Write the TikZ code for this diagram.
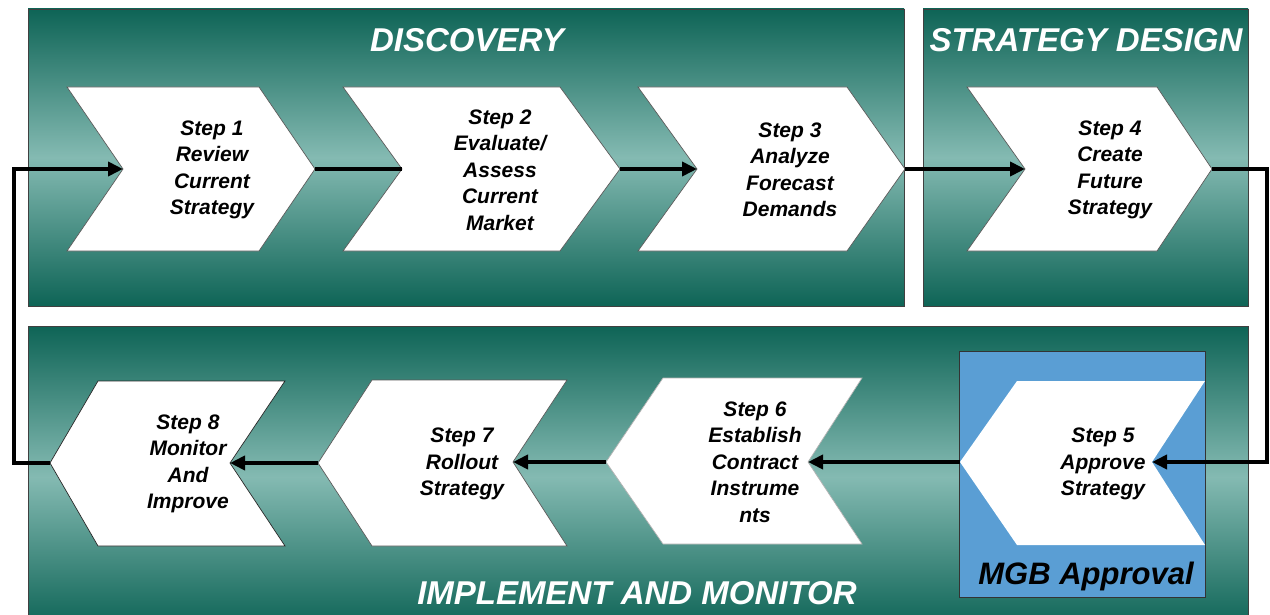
\documentclass[tikz,border=0pt]{standalone}
\usepackage{fontspec}
\setmainfont{Liberation Sans}
\usetikzlibrary{arrows.meta}
\definecolor{tealdk}{RGB}{14,100,86}
\definecolor{teallt}{RGB}{132,186,178}
\definecolor{mgbblue}{RGB}{90,158,212}
\begin{document}
\begin{tikzpicture}[x=1pt,y=-1pt,
  panel/.style={draw=black!75,line width=0.8pt,top color=tealdk,bottom color=tealdk,middle color=teallt},
  chev/.style={draw=black!65,line width=0.7pt,fill=white},
  steptext/.style={align=center,font=\fontsize{21}{26.5}\selectfont\bfseries\itshape,text=black,inner sep=0pt},
  title/.style={font=\fontsize{33}{36}\selectfont\bfseries\itshape,text=white,inner sep=0pt,anchor=base},
  conn/.style={line width=4.8pt,black},
  arr/.style={conn,-{Triangle[length=15pt,width=14pt]}}]
\clip (0,0) rectangle (1270,615);
\fill[white] (0,0) rectangle (1270,615);
% panels
\path[panel] (28,9) rectangle (904,306);
\path[panel] (923,9) rectangle (1248,306);
\path[panel] (28,326) rectangle (1248,628);
\node[title] (tdisc) at (467,52) {DISCOVERY};
\node[title] (tstrat) at (1086,52) {STRATEGY DESIGN};
\node[title] (timpl) at (637,604) {IMPLEMENT AND MONITOR};
% MGB box
\path[draw=black!80,line width=0.8pt,fill=mgbblue] (959,351) rectangle (1205,597);
\node[font=\fontsize{31}{34}\selectfont\bfseries\itshape,text=black,inner sep=0pt,anchor=base] (mgb) at (1086,584) {MGB Approval};
% top chevrons (right pointing)
\path[chev] (67,87) -- (259,87) -- (315,169) -- (259,251) -- (67,251) -- (123,169) -- cycle;
\path[chev] (343,87) -- (560,87) -- (620,169) -- (560,251) -- (343,251) -- (402,169) -- cycle;
\path[chev] (638,87) -- (847,87) -- (905,169) -- (847,251) -- (638,251) -- (697,169) -- cycle;
\path[chev] (967,87) -- (1157,87) -- (1212,169) -- (1157,251) -- (967,251) -- (1025,169) -- cycle;
% bottom chevrons (left pointing)
\path[chev,draw=black!85] (50,463) -- (98,381) -- (285,381) -- (230,463) -- (285,546) -- (98,546) -- cycle;
\path[chev] (318,463) -- (372,380) -- (567,380) -- (513,462) -- (567,546) -- (372,546) -- cycle;
\path[chev,draw=black!30] (606,462) -- (663,378) -- (862,378) -- (808,462) -- (862,544) -- (663,544) -- cycle;
\path[fill=white] (960,462) -- (1017,381) -- (1205,381) -- (1152,462) -- (1205,545) -- (1017,545) -- cycle;
% connection points
\coordinate (n1) at (123,169); \coordinate (t1) at (315,169);
\coordinate (n2) at (402,169); \coordinate (t2) at (620,169);
\coordinate (n3) at (697,169); \coordinate (t3) at (905,169);
\coordinate (n4) at (1025,169); \coordinate (t4) at (1212,169);
\coordinate (n5) at (1152,462); \coordinate (t5) at (960,462);
\coordinate (n6) at (808,462); \coordinate (t6) at (606,462);
\coordinate (n7) at (513,462); \coordinate (t7) at (318,463);
\coordinate (n8) at (230,463); \coordinate (t8) at (50,463);
% step texts
\node[steptext] (s1) at (212,170) {Step 1\\Review\\Current\\Strategy};
\node[steptext] (s2) at (500,170) {Step 2\\Evaluate/\\Assess\\Current\\Market};
\node[steptext] (s3) at (790,170) {Step 3\\Analyze\\Forecast\\Demands};
\node[steptext] (s4) at (1110,170) {Step 4\\Create\\Future\\Strategy};
\node[steptext] (s5) at (1103,464) {Step 5\\Approve\\Strategy};
\node[steptext] (s6) at (755,462) {Step 6\\Establish\\Contract\\Instrume\\nts};
\node[steptext] (s7) at (462,464) {Step 7\\Rollout\\Strategy};
\node[steptext] (s8) at (188,464) {Step 8\\Monitor\\And\\Improve};
% connectors
\draw[conn] (t1) -- (n2);
\draw[arr] (t2) -- (n3);
\draw[arr] (t3) -- (n4);
\draw[arr] (t4) -- ++(55,0) |- (n5);
\draw[arr] (t5) -- (n6);
\draw[arr] (t6) -- (n7);
\draw[arr] (t7) -- (n8);
\draw[arr] (t8) -- ++(-36,0) |- (n1);
\end{tikzpicture}
\end{document}
